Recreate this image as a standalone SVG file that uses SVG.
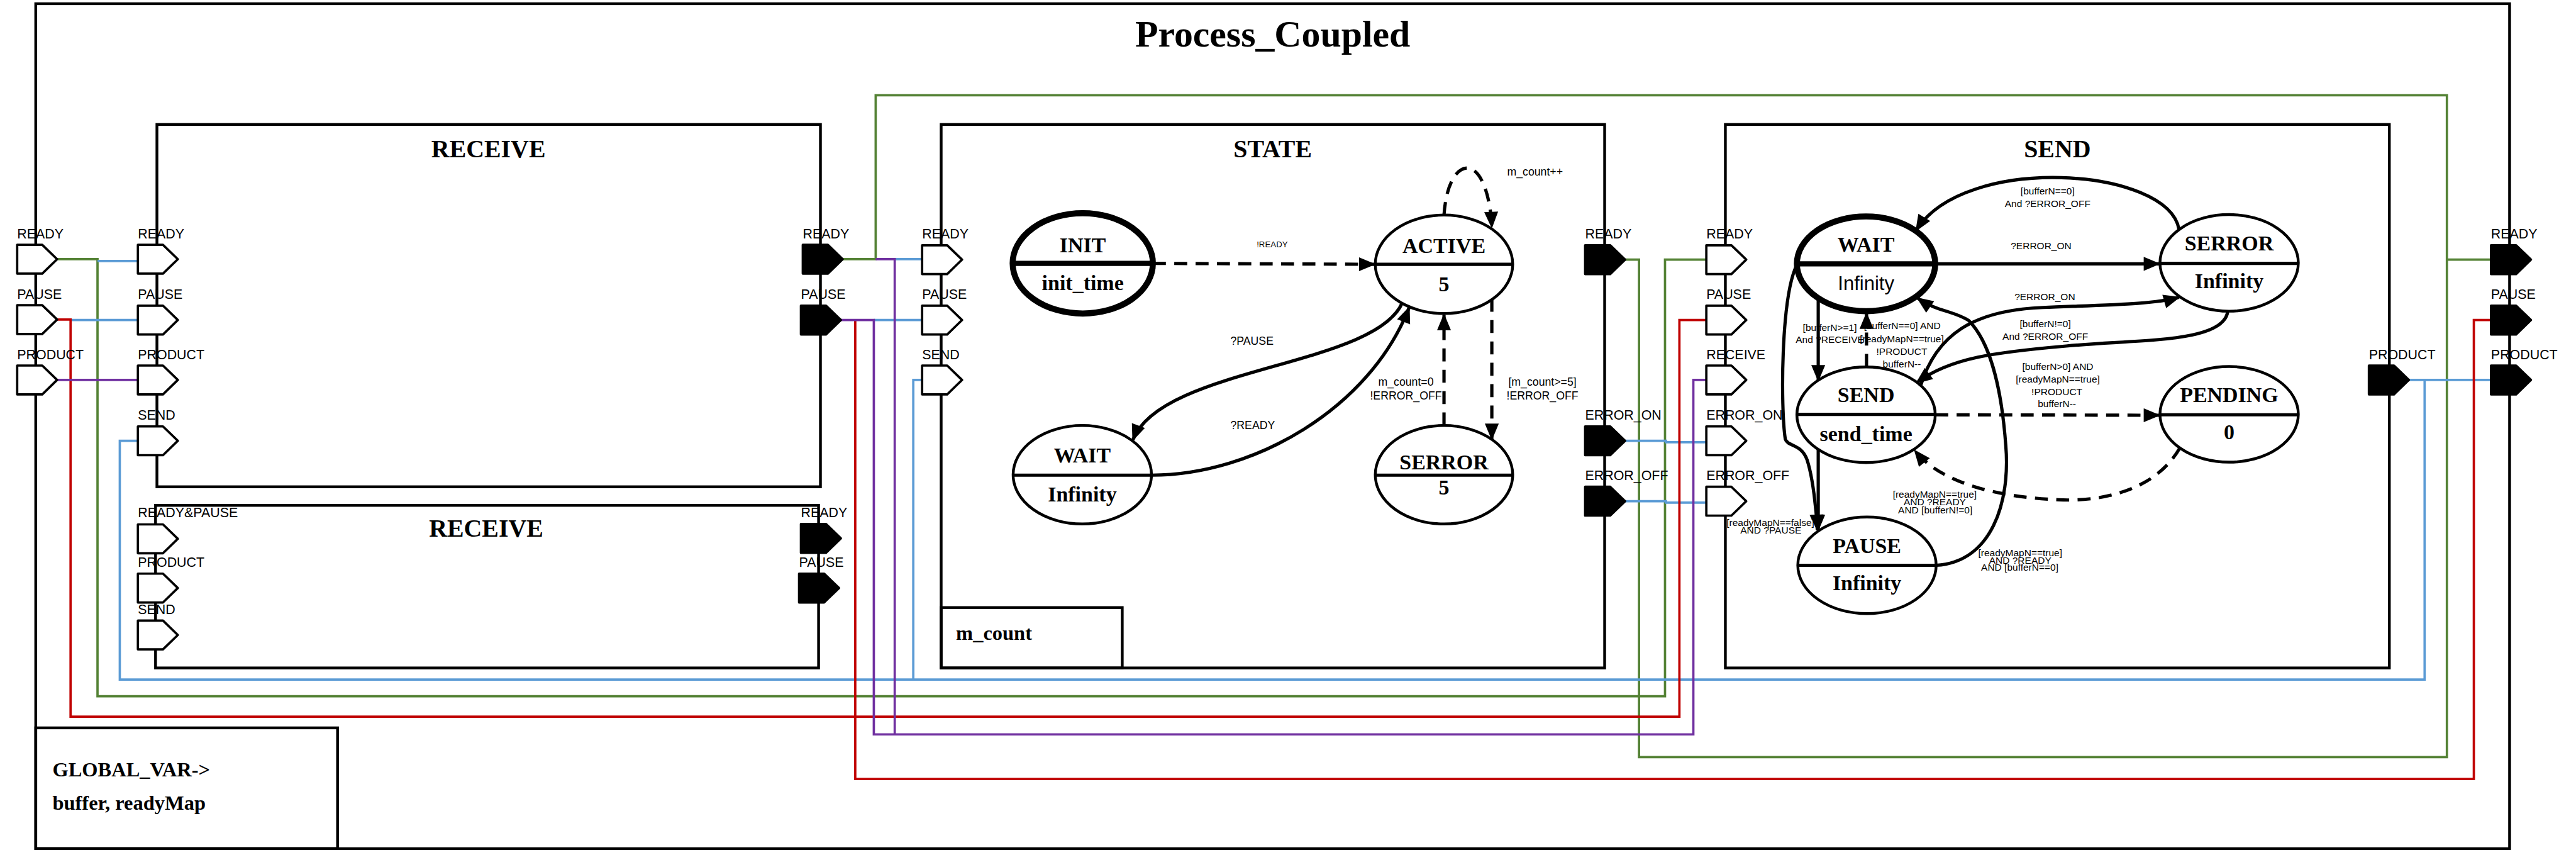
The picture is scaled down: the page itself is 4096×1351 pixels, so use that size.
<svg xmlns="http://www.w3.org/2000/svg" xmlns:xlink="http://www.w3.org/1999/xlink" width="4096" height="1351" viewBox="0 0 4096 1351">
<style>
.frame{fill:none;stroke:#000;stroke-width:6}
.box{fill:none;stroke:#000;stroke-width:6}
.pin{fill:#fff;stroke:#000;stroke-width:5;stroke-linejoin:round}
.pinf{fill:#000;stroke:#000;stroke-width:5;stroke-linejoin:round}
.pl{font-family:"Liberation Sans",Arial,sans-serif;font-size:29px;fill:#000}
.ttl{font-family:"Liberation Serif","Times New Roman",serif;font-weight:bold;font-size:54px;text-anchor:middle}
.big{font-family:"Liberation Serif","Times New Roman",serif;font-weight:bold;font-size:81px;text-anchor:middle}
.var{font-family:"Liberation Serif","Times New Roman",serif;font-weight:bold;font-size:44px}
.st{font-family:"Liberation Serif","Times New Roman",serif;font-weight:bold;font-size:46px;text-anchor:middle}
.ss{font-family:"Liberation Sans",Arial,sans-serif;font-size:42px;text-anchor:middle}
.state{fill:#fff;stroke:#000;stroke-width:6}
.bold{stroke-width:13}
.dv{stroke:#000;stroke-width:7}
.dvb{stroke:#000;stroke-width:11}
.tr{fill:none;stroke:#000;stroke-width:7;marker-end:url(#arr)}
.dash{stroke-dasharray:28 18}
.tl{font-family:"Liberation Sans",Arial,sans-serif;font-size:21px;text-anchor:middle}
.tm{font-family:"Liberation Sans",Arial,sans-serif;font-size:24px}
.w{fill:none;stroke-width:5}
.g{stroke:#548235}
.b{stroke:#5B9BD5}
.r{stroke:#C00000}
.p{stroke:#7030A0}
</style>
<defs>
<path id="pinshape" d="M0,-31 H54 L86,0 L54,31 H0 Z"/>
<marker id="arr" markerUnits="userSpaceOnUse" markerWidth="40" markerHeight="34" refX="33" refY="15" orient="auto" overflow="visible">
<path d="M0,0 L36,15 L0,30 Z" fill="#000"/>
</marker>
</defs>
<g transform="scale(0.73828)">
<rect x="0" y="0" width="5548" height="1830" fill="#fff"/>
<g id="process_coupled">
<rect x="77" y="8" width="5328" height="1819" class="frame"/>
<text x="2741" y="100" class="big">Process_Coupled</text>
</g>

<g id="connectors">
<path class="w g" d="M122,558 H210 V1499 H3586 V559 H3675"/>
<path class="w g" d="M1815,558 H1886 V205 H5270 V1630 H3530 V559 H3500"/>
<path class="w g" d="M5270,559 H5365"/>
<path class="w b" d="M210,562 H297"/>
<path class="w b" d="M152,689 H297"/>
<path class="w b" d="M1927,558 H1986"/>
<path class="w b" d="M1882,689 H1986"/>
<path class="w b" d="M297,949 H258 V1463 H5222 V818"/>
<path class="w b" d="M5188,818 H5365"/>
<path class="w b" d="M1986,818 H1967 V1463"/>
<path class="w b" d="M3500,949 H3588 V952 H3675"/>
<path class="w b" d="M3500,1079 H3588 V1082 H3675"/>
<path class="w r" d="M122,688 H152 V1543 H3617 V689 H3675"/>
<path class="w r" d="M1842,689 V1677 H5328 V689 H5365"/>
<path class="w p" d="M122,818 H297"/>
<path class="w p" d="M1886,558 H1927 V1581"/>
<path class="w p" d="M1811,689 H1882 V1581 H3647 V818 H3675"/>
</g>

<g id="outer_ports">
<text x="37" y="513" class="pl">READY</text>
<text x="37" y="643" class="pl">PAUSE</text>
<text x="37" y="773" class="pl">PRODUCT</text>
<use xlink:href="#pinshape" x="37" y="558" class="pin"/>
<use xlink:href="#pinshape" x="37" y="688" class="pin"/>
<use xlink:href="#pinshape" x="37" y="818" class="pin"/>
<text x="5365" y="514" class="pl">READY</text>
<text x="5365" y="644" class="pl">PAUSE</text>
<text x="5365" y="773" class="pl">PRODUCT</text>
<use xlink:href="#pinshape" x="5365" y="559" class="pinf"/>
<use xlink:href="#pinshape" x="5365" y="689" class="pinf"/>
<use xlink:href="#pinshape" x="5365" y="818" class="pinf"/>
</g>

<g id="receive1">
<rect x="338" y="268" width="1429" height="780" class="box"/>
<text x="1052" y="338" class="ttl">RECEIVE</text>
<text x="297" y="513" class="pl">READY</text>
<text x="297" y="644" class="pl">PAUSE</text>
<text x="297" y="773" class="pl">PRODUCT</text>
<text x="297" y="904" class="pl">SEND</text>
<use xlink:href="#pinshape" x="297" y="558" class="pin"/>
<use xlink:href="#pinshape" x="297" y="689" class="pin"/>
<use xlink:href="#pinshape" x="297" y="818" class="pin"/>
<use xlink:href="#pinshape" x="297" y="949" class="pin"/>
<text x="1729" y="513" class="pl">READY</text>
<text x="1725" y="644" class="pl">PAUSE</text>
<use xlink:href="#pinshape" x="1729" y="558" class="pinf"/>
<use xlink:href="#pinshape" x="1725" y="689" class="pinf"/>
</g>

<g id="receive2">
<rect x="335" y="1088" width="1428" height="350" class="box"/>
<text x="1047" y="1156" class="ttl">RECEIVE</text>
<text x="297" y="1114" class="pl">READY&amp;PAUSE</text>
<text x="297" y="1221" class="pl">PRODUCT</text>
<text x="297" y="1322" class="pl">SEND</text>
<use xlink:href="#pinshape" x="297" y="1160" class="pin"/>
<use xlink:href="#pinshape" x="297" y="1266" class="pin"/>
<use xlink:href="#pinshape" x="297" y="1367" class="pin"/>
<text x="1725" y="1114" class="pl">READY</text>
<text x="1721" y="1221" class="pl">PAUSE</text>
<use xlink:href="#pinshape" x="1725" y="1159" class="pinf"/>
<use xlink:href="#pinshape" x="1721" y="1266" class="pinf"/>
</g>

<g id="state_box">
<rect x="2027" y="268" width="1429" height="1170" class="box"/>
<text x="2741" y="338" class="ttl">STATE</text>
<text x="1986" y="514" class="pl">READY</text>
<text x="1986" y="644" class="pl">PAUSE</text>
<text x="1986" y="773" class="pl">SEND</text>
<use xlink:href="#pinshape" x="1986" y="559" class="pin"/>
<use xlink:href="#pinshape" x="1986" y="689" class="pin"/>
<use xlink:href="#pinshape" x="1986" y="818" class="pin"/>
<text x="3414" y="514" class="pl">READY</text>
<text x="3414" y="904" class="pl">ERROR_ON</text>
<text x="3414" y="1034" class="pl">ERROR_OFF</text>
<use xlink:href="#pinshape" x="3414" y="559" class="pinf"/>
<use xlink:href="#pinshape" x="3414" y="949" class="pinf"/>
<use xlink:href="#pinshape" x="3414" y="1079" class="pinf"/>
</g>

<g id="m_count">
<rect x="2027" y="1308" width="390" height="130" class="box"/>
<text x="2059" y="1377" class="var">m_count</text>
</g>

<g id="send_box">
<rect x="3716" y="268" width="1430" height="1170" class="box"/>
<text x="4431" y="338" class="ttl">SEND</text>
<text x="3675" y="514" class="pl">READY</text>
<text x="3675" y="644" class="pl">PAUSE</text>
<text x="3675" y="773" class="pl">RECEIVE</text>
<text x="3675" y="904" class="pl">ERROR_ON</text>
<text x="3675" y="1034" class="pl">ERROR_OFF</text>
<use xlink:href="#pinshape" x="3675" y="559" class="pin"/>
<use xlink:href="#pinshape" x="3675" y="689" class="pin"/>
<use xlink:href="#pinshape" x="3675" y="818" class="pin"/>
<use xlink:href="#pinshape" x="3675" y="949" class="pin"/>
<use xlink:href="#pinshape" x="3675" y="1079" class="pin"/>
<text x="5102" y="773" class="pl">PRODUCT</text>
<use xlink:href="#pinshape" x="5102" y="818" class="pinf"/>
</g>

<g id="global_var">
<rect x="77" y="1567" width="650" height="260" class="box"/>
<text x="113" y="1672" class="var">GLOBAL_VAR-&gt;</text>
<text x="113" y="1743" class="var">buffer, readyMap</text>
</g>

<g id="transitions">
<path class="tr dash" d="M2483,567 L2960,569"/>
<path class="tr dash" d="M3110,463 C3115,390 3140,360 3162,362 C3190,365 3210,420 3213,489"/>
<path class="tr" d="M3020,652 C2960,790 2500,790 2440,947"/>
<path class="tr" d="M2480,1023 C2700,1023 2950,880 3035,662"/>
<path class="tr dash" d="M3110,916 V678"/>
<path class="tr dash" d="M3213,643 V945"/>
<path class="tr" d="M4168,568 L4650,568"/>
<path class="tr" d="M4693,494 C4670,360 4230,330 4127,496"/>
<path class="tr" d="M4136,832 C4170,720 4250,668 4400,662 C4550,656 4640,655 4693,640"/>
<path class="tr" d="M4798,670 C4790,740 4600,730 4450,745 C4300,758 4200,770 4128,824"/>
<path class="tr" d="M3916,642 V819"/>
<path class="tr dash" d="M4020,790 V675"/>
<path class="tr dash" d="M4168,893 L4650,894"/>
<path class="tr dash" d="M4695,964 C4640,1060 4520,1080 4434,1076 C4300,1070 4180,1040 4124,970"/>
<path class="tr" d="M3916,968 V1141"/>
<path class="tr" d="M3870,570 C3835,640 3835,880 3845,945 C3850,962 3880,955 3892,990 C3905,1030 3912,1100 3914,1141"/>
<path class="tr" d="M4170,1217 C4290,1210 4330,1080 4320,960 C4312,850 4290,740 4240,690 C4210,670 4170,670 4130,642"/>
</g>

<g id="st_init">
<ellipse cx="2332" cy="567" rx="151" ry="108" class="state bold"/>
<line x1="2181" y1="567" x2="2483" y2="567" class="dvb"/>
<text x="2332" y="543" class="st">INIT</text>
<text x="2332" y="625" class="st">init_time</text>
</g>
<g id="st_active">
<ellipse cx="3110" cy="569" rx="148" ry="106" class="state"/>
<line x1="2962" y1="569" x2="3258" y2="569" class="dv"/>
<text x="3110" y="545" class="st">ACTIVE</text>
<text x="3110" y="627" class="st">5</text>
</g>
<g id="st_wait">
<ellipse cx="2331" cy="1022" rx="149" ry="106" class="state"/>
<line x1="2182" y1="1023" x2="2480" y2="1023" class="dv"/>
<text x="2331" y="996" class="st">WAIT</text>
<text x="2331" y="1080" class="st">Infinity</text>
</g>
<g id="st_serror">
<ellipse cx="3110" cy="1022" rx="148" ry="106" class="state"/>
<line x1="2962" y1="1023" x2="3258" y2="1023" class="dv"/>
<text x="3110" y="1010" class="st">SERROR</text>
<text x="3110" y="1065" class="st">5</text>
</g>

<g id="sd_wait">
<ellipse cx="4019" cy="568" rx="149" ry="102" class="state bold"/>
<line x1="3870" y1="568" x2="4168" y2="568" class="dvb"/>
<text x="4019" y="542" class="st">WAIT</text>
<text x="4019" y="624" class="ss">Infinity</text>
</g>
<g id="sd_serror">
<ellipse cx="4801" cy="566" rx="149" ry="104" class="state"/>
<line x1="4652" y1="567" x2="4950" y2="567" class="dv"/>
<text x="4801" y="539" class="st">SERROR</text>
<text x="4801" y="620" class="st">Infinity</text>
</g>
<g id="sd_send">
<ellipse cx="4019" cy="893" rx="149" ry="103" class="state"/>
<line x1="3870" y1="892" x2="4168" y2="892" class="dv"/>
<text x="4019" y="866" class="st">SEND</text>
<text x="4019" y="949" class="st">send_time</text>
</g>
<g id="sd_pending">
<ellipse cx="4801" cy="892" rx="149" ry="103" class="state"/>
<line x1="4652" y1="893" x2="4950" y2="893" class="dv"/>
<text x="4801" y="865" class="st">PENDING</text>
<text x="4801" y="945" class="st">0</text>
</g>
<g id="sd_pause">
<ellipse cx="4021" cy="1217" rx="149" ry="104" class="state"/>
<line x1="3872" y1="1217" x2="4170" y2="1217" class="dv"/>
<text x="4021" y="1190" class="st">PAUSE</text>
<text x="4021" y="1271" class="st">Infinity</text>
</g>

<g id="transition_labels">
<text x="2740" y="532" class="tm" style="font-size:18px;text-anchor:middle">!READY</text>
<text x="3306" y="378" class="tm" style="text-anchor:middle">m_count++</text>
<text x="2650" y="742" class="tm">?PAUSE</text>
<text x="2650" y="924" class="tm">?READY</text>
<text x="3028" y="830" class="tm" style="text-anchor:middle">m_count=0</text>
<text x="3028" y="860" class="tm" style="text-anchor:middle">!ERROR_OFF</text>
<text x="3322" y="830" class="tm" style="text-anchor:middle">[m_count&gt;=5]</text>
<text x="3322" y="860" class="tm" style="text-anchor:middle">!ERROR_OFF</text>

<text x="4410" y="418" class="tl">[bufferN==0]</text>
<text x="4410" y="445" class="tl">And ?ERROR_OFF</text>
<text x="4396" y="536" class="tl">?ERROR_ON</text>
<text x="4404" y="646" class="tl">?ERROR_ON</text>
<text x="4405" y="704" class="tl">[bufferN!=0]</text>
<text x="4405" y="732" class="tl">And ?ERROR_OFF</text>
<text x="4432" y="796" class="tl">[bufferN&gt;0] AND</text>
<text x="4432" y="824" class="tl">[readyMapN==true]</text>
<text x="4430" y="850" class="tl">!PRODUCT</text>
<text x="4430" y="877" class="tl">bufferN--</text>
<text x="3941" y="712" class="tl">[bufferN&gt;=1]</text>
<text x="3941" y="738" class="tl">And ?RECEIVE</text>
<text x="4097" y="709" class="tl">[bufferN==0] AND</text>
<text x="4096" y="737" class="tl">[readyMapN==true]</text>
<text x="4096" y="764" class="tl">!PRODUCT</text>
<text x="4096" y="791" class="tl">bufferN--</text>
<text x="3813" y="1132" class="tl">[readyMapN==false]</text>
<text x="3814" y="1148" class="tl">AND ?PAUSE</text>
<text x="4167" y="1071" class="tl">[readyMapN==true]</text>
<text x="4167" y="1088" class="tl">AND ?READY</text>
<text x="4168" y="1105" class="tl">AND [bufferN!=0]</text>
<text x="4351" y="1197" class="tl">[readyMapN==true]</text>
<text x="4351" y="1213" class="tl">AND ?READY</text>
<text x="4350" y="1229" class="tl">AND [bufferN==0]</text>
</g>
</g>
</svg>
